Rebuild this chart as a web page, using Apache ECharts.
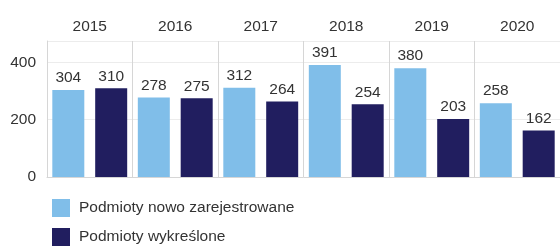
<!DOCTYPE html>
<html><head><meta charset="utf-8">
<script src="https://cdn.jsdelivr.net/npm/echarts@6/dist/echarts.min.js"></script>
<style>html,body{margin:0;padding:0;background:#fff}#c{width:560px;height:247px}</style>
</head><body><div id="c"></div>
<script>
const years = ['2015','2016','2017','2018','2019','2020'];
const registered = [304, 278, 312, 391, 380, 258];
const removed = [310, 275, 264, 254, 203, 162];
const yTicks = [0, 200, 400];
const seriesNames = ['Podmioty nowo zarejestrowane', 'Podmioty wykreślone'];

const chart = echarts.init(document.getElementById('c'), null, {renderer: 'canvas'});
const font = 'Liberation Sans, Arial, sans-serif';
const lbl = {show: true, position: 'top', distance: 4, fontSize: 15.5, color: '#333', fontFamily: font};
chart.setOption({
  animation: false,
  grid: {left: 47, right: 0, top: 41, bottom: 70},
  legend: {
    orient: 'vertical', left: 52, top: 199, padding: 0, itemWidth: 18, itemHeight: 18, itemGap: 11,
    icon: 'rect', data: seriesNames,
    textStyle: {fontSize: 15.5, color: '#333', fontFamily: font, padding: [0, 0, 0, 4]}
  },
  xAxis: {
    type: 'category', data: years, position: 'top',
    axisLine: {show: true, lineStyle: {color: '#d6d6d6'}},
    axisTick: {show: false},
    axisLabel: {fontSize: 15.5, color: '#333', fontFamily: font, margin: 6},
    splitLine: {show: true, interval: 0, lineStyle: {color: '#d6d6d6', width: 1}}
  },
  yAxis: {
    type: 'value', min: 0, max: 475, interval: 200,
    axisLine: {show: true, lineStyle: {color: '#d6d6d6'}},
    axisTick: {show: false},
    axisLabel: {fontSize: 15.5, color: '#333', fontFamily: font, margin: 11, showMaxLabel: false,
      formatter: v => yTicks.includes(v) ? String(v) : ''},
    splitLine: {show: true, lineStyle: {color: '#ececec'}}
  },
  series: [
    {name: seriesNames[0], type: 'bar', data: registered, barWidth: 32, barGap: '34%',
      itemStyle: {color: '#80bee9'}, label: lbl},
    {name: seriesNames[1], type: 'bar', data: removed, barWidth: 32, barGap: '34%',
      itemStyle: {color: '#211e5f'}, label: lbl}
  ]
});
</script></body></html>
